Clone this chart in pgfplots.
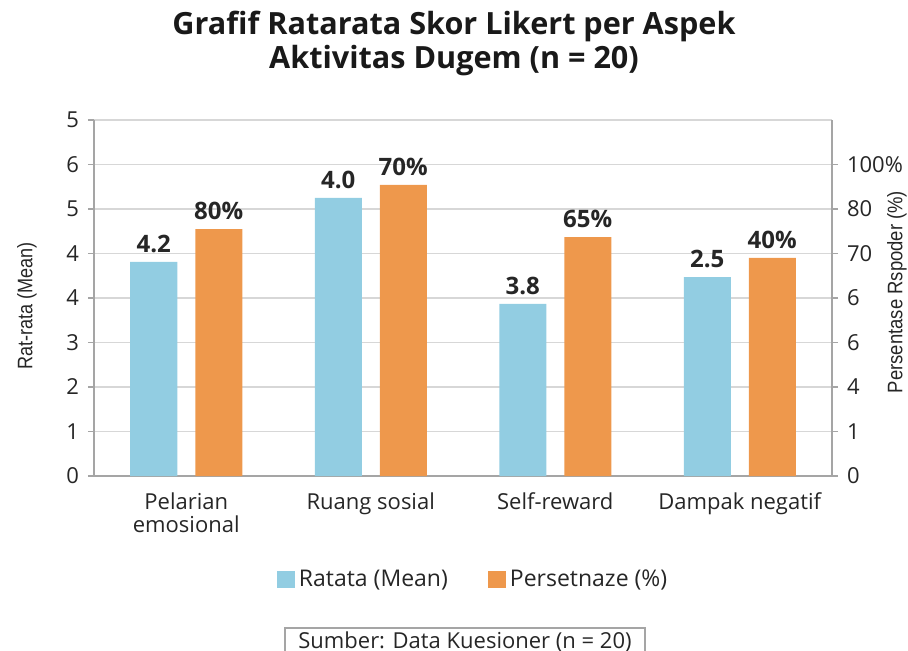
\documentclass[border=0pt]{standalone}
\usepackage{pgfplots}
\pgfplotsset{compat=1.18}
\usepackage{fontspec}
\setmainfont{Open Sans}
\newfontfamily\arialf{Liberation Sans}
\definecolor{bluec}{RGB}{146,205,226}
\definecolor{orangec}{RGB}{238,152,76}
\definecolor{axisgray}{RGB}{165,165,165}
\definecolor{gridgray}{RGB}{215,215,215}
\begin{document}
\begin{tikzpicture}
\useasboundingbox (0,0) rectangle (454pt,-325.5pt);
\begin{axis}[
  at={(47pt,-238pt)}, anchor=south west, scale only axis,
  width=369pt, height=178pt,
  xmin=-0.5, xmax=3.5, ymin=0, ymax=8,
  ybar=9pt, bar width=23.5pt,
  axis x line*=bottom, axis y line*=left,
  axis line style={draw=axisgray, line width=0.8pt, -},
  xtick={0,1,2,3},
  xticklabels={{Pelarian\\emosional},{Ruang sosial},{Self-reward},{Dampak negatif}},
  xticklabel style={align=center, font=\fontsize{11}{11.5}\selectfont, text=black!85, yshift=-2pt},
  major x tick style={draw=none},
  extra x ticks={0.5,1.5,2.5,3.5},
  extra x tick labels={},
  extra x tick style={major tick style={draw=axisgray, line width=0.8pt}, grid=none},
  ytick={0,...,8}, yticklabels={0,1,2,3,4,4,5,6,5},
  ymajorgrids, grid style={gridgray, line width=0.8pt},
  tick align=outside, major tick length=3pt,
  tick style={axisgray, line width=0.8pt},
  yticklabel style={font=\fontsize{11}{12}\selectfont, text=black!85, xshift=-1pt},
  /pgf/number format/assume math mode=true,
  legend style={at={(0.515,-0.292)}, anchor=center, draw=none, fill=none,
    legend columns=2, font=\fontsize{11.5}{12}\selectfont, text=black!85,
    /tikz/every even column/.append style={column sep=18pt}},
  nodes near coords style={font=\bfseries\fontsize{12}{13}\selectfont, text=black!85, yshift=1pt},
]
\addplot[fill=bluec, draw=none,
  nodes near coords, point meta=explicit symbolic,
  legend image code/.code={\fill[bluec] (0pt,-4.25pt) rectangle (9pt,4.25pt);}]
  table[x=x, y=y, meta=lab] {
x y lab
0 4.81 4.2
1 6.25 4.0
2 3.87 3.8
3 4.47 2.5
};
\addlegendentry{Ratata (Mean)}
\addplot[fill=orangec, draw=none,
  nodes near coords={\pgfplotspointmeta\%}, point meta=explicit symbolic,
  legend image code/.code={\fill[orangec] (0pt,-4.25pt) rectangle (9pt,4.25pt);}]
  table[x=x, y=y, meta=lab] {
x y lab
0 5.55 80
1 6.54 70
2 5.37 65
3 4.90 40
};
\addlegendentry{Persetnaze (\%)}
\end{axis}
\begin{axis}[
  at={(47pt,-238pt)}, anchor=south west, scale only axis,
  width=369pt, height=178pt,
  xmin=-0.5, xmax=3.5, ymin=0, ymax=8,
  axis y line*=right, axis x line=none,
  axis line style={draw=axisgray, line width=0.8pt, -},
  ytick={0,...,7}, yticklabels={0,1,4,6,6,70,80,100\%},
  tick align=outside, major tick length=3pt,
  tick style={axisgray, line width=0.8pt},
  yticklabel style={font=\fontsize{11}{12}\selectfont, text=black!85, xshift=1pt},
]
\addplot[draw=none] coordinates {(0,0) (3,0)};
\end{axis}
\node[align=center, font=\bfseries\fontsize{15.3}{17}\selectfont, text=black!90] at (227pt,-21.5pt)
  {Grafif Ratarata Skor Likert per Aspek\\Aktivitas Dugem (n = 20)};
\node[rotate=90, font=\arialf\fontsize{10.5}{11}\selectfont, text=black!85] at (13.5pt,-153pt) {\scalebox{0.86}[1]{Rat-rata (Mean)}};
\node[rotate=90, font=\arialf\fontsize{10.5}{11}\selectfont, text=black!85] at (448.5pt,-146pt) {\scalebox{0.88}[1]{Persentase Rspoder (\%)}};
\node[draw=axisgray, line width=0.6pt, minimum width=180pt, minimum height=14pt, inner sep=0pt,
  font=\fontsize{11}{12}\selectfont, text=black!85] at (232.5pt,-321pt) {Sumber: Data Kuesioner (n = 20)};
\end{tikzpicture}
\end{document}
